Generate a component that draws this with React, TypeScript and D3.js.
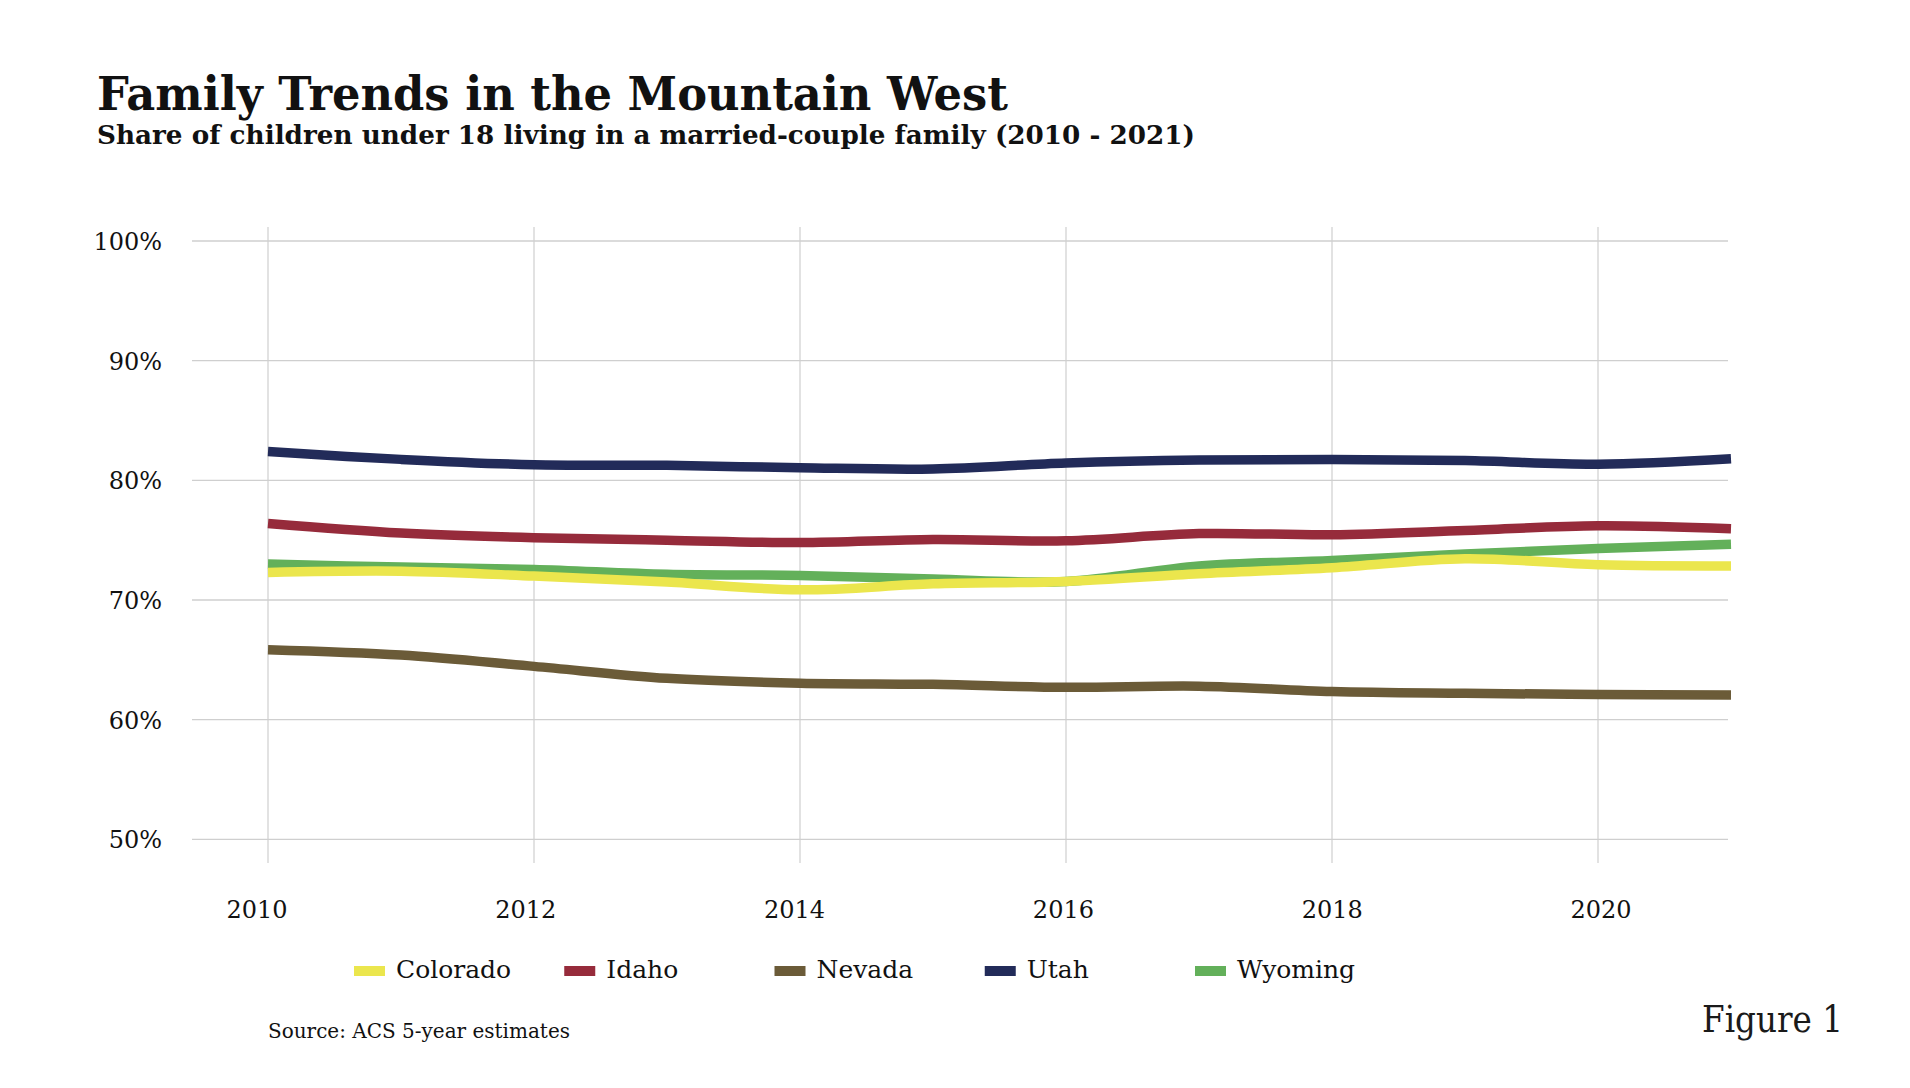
import React, { useEffect, useRef } from "react";
import * as d3 from "d3";

// data (share of children, %)
const years = [2010, 2011, 2012, 2013, 2014, 2015, 2016, 2017, 2018, 2019, 2020, 2021];
const states = ["Colorado", "Idaho", "Nevada", "Utah", "Wyoming"];
const colorado = [72.3, 72.4, 72.0, 71.5, 70.85, 71.35, 71.55, 72.2, 72.7, 73.45, 72.95, 72.85];
const idaho = [76.4, 75.6, 75.2, 75.0, 74.8, 75.05, 74.95, 75.55, 75.45, 75.8, 76.2, 75.95];
const nevada = [65.85, 65.4, 64.45, 63.45, 63.05, 62.95, 62.7, 62.8, 62.35, 62.2, 62.1, 62.05];
const utah = [82.4, 81.75, 81.3, 81.25, 81.05, 80.95, 81.45, 81.7, 81.75, 81.65, 81.35, 81.8];
const wyoming = [73.0, 72.75, 72.55, 72.15, 72.05, 71.75, 71.55, 72.85, 73.3, 73.85, 74.3, 74.65];
const yTicks = [50, 60, 70, 80, 90, 100];
const xTicks = [2010, 2012, 2014, 2016, 2018, 2020];

const colors = ["#ebe64d", "#962b3b", "#6b5b38", "#222b59", "#63b05a"];
const serif = "'DejaVu Serif', serif";

const App = () => {
  const ref = useRef<SVGSVGElement>(null);

  useEffect(() => {
    const width = 1910,
      height = 1088;
    const series = [colorado, idaho, nevada, utah, wyoming];

    const svg = d3.select(ref.current);
    svg.selectAll("*").remove();
    svg.attr("width", width).attr("height", height);

    svg.append("rect").attr("width", width).attr("height", height).attr("fill", "#fff");

    const x = d3.scaleLinear().domain([2010, 2021]).range([268, 1731]);
    // tick labels sit on a slightly wider spacing than the gridlines
    const xLabel = d3.scaleLinear().domain([2010, 2020]).range([257, 1601]);
    const y = d3.scaleLinear().domain([50, 100]).range([839.3, 241]);

    // grid
    svg
      .append("g")
      .selectAll("line")
      .data(xTicks)
      .enter()
      .append("line")
      .attr("x1", (d) => x(d))
      .attr("x2", (d) => x(d))
      .attr("y1", 227)
      .attr("y2", 863)
      .attr("stroke", "#cfcfcf")
      .attr("stroke-width", 1.2);

    svg
      .append("g")
      .selectAll("line")
      .data(yTicks)
      .enter()
      .append("line")
      .attr("x1", 192)
      .attr("x2", 1728)
      .attr("y1", (d) => y(d))
      .attr("y2", (d) => y(d))
      .attr("stroke", "#cfcfcf")
      .attr("stroke-width", 1.3);

    // tick labels
    svg
      .append("g")
      .selectAll("text")
      .data(yTicks)
      .enter()
      .append("text")
      .attr("x", 162)
      .attr("y", (d) => y(d) + 9)
      .attr("text-anchor", "end")
      .style("font-family", serif)
      .style("font-size", "24px")
      .attr("fill", "#111")
      .text((d) => d + "%");

    svg
      .append("g")
      .selectAll("text")
      .data(xTicks)
      .enter()
      .append("text")
      .attr("x", (d) => xLabel(d))
      .attr("y", 918)
      .attr("text-anchor", "middle")
      .style("font-family", serif)
      .style("font-size", "24px")
      .attr("fill", "#111")
      .text((d) => d);

    // lines
    const line = d3
      .line<number>()
      .x((d, i) => x(years[i]))
      .y((d) => y(d))
      .curve(d3.curveCatmullRom);

    // draw order: green under yellow, the rest on top
    const order = [4, 0, 1, 2, 3];
    svg
      .append("g")
      .selectAll("path")
      .data(order)
      .enter()
      .append("path")
      .attr("d", (k) => line(series[k]))
      .attr("fill", "none")
      .attr("stroke", (k) => colors[k])
      .attr("stroke-width", 9.5);

    // legend
    const legendX = d3.scaleLinear().domain([0, 4]).range([354, 1195]);
    const item = svg
      .append("g")
      .selectAll("g")
      .data(states)
      .enter()
      .append("g")
      .attr("transform", (d, i) => "translate(" + legendX(i) + ",0)");
    item
      .append("rect")
      .attr("y", 966)
      .attr("width", 31)
      .attr("height", 10)
      .attr("fill", (d, i) => colors[i]);
    item
      .append("text")
      .attr("x", 42)
      .attr("y", 978)
      .style("font-family", serif)
      .style("font-size", "25px")
      .attr("fill", "#111")
      .text((d) => d);

    // titles and notes
    svg
      .append("text")
      .attr("x", 97)
      .attr("y", 110)
      .attr("textLength", 911)
      .attr("lengthAdjust", "spacingAndGlyphs")
      .style("font-family", serif)
      .style("font-weight", "bold")
      .style("font-size", "46px")
      .attr("fill", "#111")
      .text("Family Trends in the Mountain West");

    svg
      .append("text")
      .attr("x", 97)
      .attr("y", 144)
      .attr("textLength", 1098)
      .attr("lengthAdjust", "spacingAndGlyphs")
      .style("font-family", serif)
      .style("font-weight", "bold")
      .style("font-size", "26px")
      .attr("fill", "#111")
      .text("Share of children under 18 living in a married-couple family (2010 - 2021)");

    svg
      .append("text")
      .attr("x", 268)
      .attr("y", 1038)
      .attr("textLength", 302)
      .attr("lengthAdjust", "spacingAndGlyphs")
      .style("font-family", serif)
      .style("font-size", "21px")
      .attr("fill", "#111")
      .text("Source: ACS 5-year estimates");

    svg
      .append("text")
      .attr("x", 1702)
      .attr("y", 1032)
      .attr("textLength", 141)
      .attr("lengthAdjust", "spacingAndGlyphs")
      .style("font-family", serif)
      .style("font-size", "38px")
      .attr("fill", "#1a1a1a")
      .text("Figure 1");
  }, []);

  return <svg ref={ref} style={{ position: "absolute", left: 0, top: 0, display: "block" }} />;
};

export default App;
